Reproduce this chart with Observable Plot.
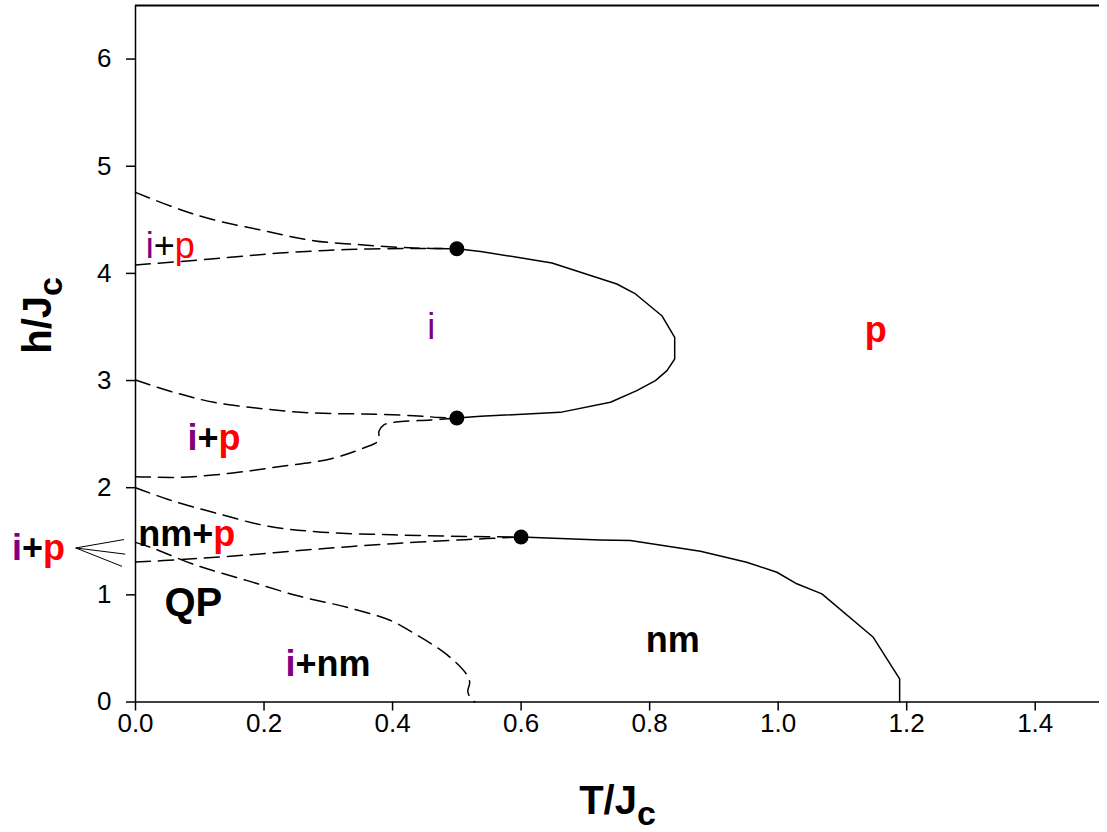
<!DOCTYPE html>
<html>
<head>
<meta charset="utf-8">
<script src="https://cdn.jsdelivr.net/npm/d3@7"></script>
<script src="https://cdn.jsdelivr.net/npm/@observablehq/plot@0.6"></script>
<style>
  html, body { margin: 0; padding: 0; background: #fff; }
  #chart svg g[aria-label="x-axis tick"] path,
  #chart svg g[aria-label="y-axis tick"] path { stroke-width: 1.5px; }
</style>
</head>
<body>
<div id="chart"></div>
<script>
// Phase boundaries in the (T/Jc, h/Jc) plane, as [T, h] pairs.
// Second-order (continuous) transition lines:
const iLoop = [[0.5,4.23],[0.537,4.205],[0.648,4.097],[0.749,3.901],[0.778,3.808],[0.819,3.605],
  [0.839,3.403],[0.839,3.201],[0.827,3.092],[0.809,2.999],[0.780,2.906],[0.739,2.797],
  [0.661,2.703],[0.537,2.666],[0.5,2.65]];
const nmBoundary = [[0.6,1.54],[0.723,1.513],[0.77,1.507],[0.879,1.407],[0.951,1.304],[0.998,1.211],
  [1.029,1.103],[1.068,1.009],[1.148,0.604],[1.189,0.216],[1.189,0]];

// First-order (coexistence) lines:
const upperCoexTop = [[0,4.756],[0.06,4.616],[0.117,4.507],[0.2,4.398],[0.277,4.305],[0.355,4.265],[0.433,4.237],[0.5,4.23]];
const upperCoexBottom = [[0,4.078],[0.117,4.134],[0.225,4.19],[0.329,4.222],[0.433,4.232],[0.5,4.23]];
const middleCoexTop = [[0,3.005],[0.06,2.89],[0.122,2.797],[0.2,2.735],[0.277,2.697],[0.355,2.688],[0.433,2.672],[0.474,2.655],[0.5,2.65]];
const middleCoexBottom = [[0,2.103],[0.07,2.097],[0.148,2.135],[0.225,2.197],[0.303,2.268],[0.355,2.371],[0.378,2.44],
  [0.379,2.53],[0.386,2.585],[0.405,2.612],[0.459,2.632],[0.5,2.65]];
const lowerCoexTop = [[0,2.0],[0.051,1.89],[0.123,1.766],[0.207,1.64],[0.29,1.585],[0.40,1.56],[0.513,1.545],[0.6,1.54]];
const lowerCoexBottom = [[0,1.306],[0.068,1.328],[0.179,1.375],[0.29,1.431],[0.40,1.478],[0.513,1.515],[0.6,1.54]];
const qpBoundary = [[0,1.49],[0.023,1.444],[0.096,1.273],[0.174,1.133],[0.251,0.993],[0.329,0.884],[0.397,0.76],
  [0.429,0.656],[0.485,0.44],[0.516,0.25],[0.52,0.18],[0.517,0.1],[0.521,0.04],[0.528,0]];

// Tricritical points
const tricritical = [[0.5,4.23],[0.5,2.65],[0.6,1.54]];

// Pointer from the outside "i+p" label to the narrow i+p strip at T = 0
const pointerFrom = [-0.093, 1.4375];
const pointerTo = [[-0.018,1.516],[-0.016,1.38],[-0.021,1.266]];

// Region labels (baseline positions)
const labelsPlain = [{T:0.054,h:4.146,text:"i+p"},{T:0.46,h:3.39,text:"i"}];
const labelsBold = [{T:1.152,h:3.356,text:"p"},{T:0.122,h:2.353,text:"i+p"},{T:0.0798,h:1.46,text:"nm+p"},
  {T:-0.151,h:1.328,text:"i+p"},{T:0.2994,h:0.247,text:"i+nm"},{T:0.836,h:0.462,text:"nm"}];
const labelsLarge = [{T:0.09,h:0.807,text:"QP"}];

const xTicks = [0,0.2,0.4,0.6,0.8,1.0,1.2,1.4];
const yTicks = [0,1,2,3,4,5,6];
const xTitle = "T/Jc", yTitle = "h/Jc";

const toRows = (pts, id) => pts.map(([T, h]) => ({T, h, id}));
const solid = [...toRows(iLoop, "i"), ...toRows(nmBoundary, "nm")];
const dashed = [
  ...toRows(upperCoexTop, "a"), ...toRows(upperCoexBottom, "b"),
  ...toRows(middleCoexTop, "c"), ...toRows(middleCoexBottom, "d"),
  ...toRows(lowerCoexTop, "e"), ...toRows(lowerCoexBottom, "f"),
  ...toRows(qpBoundary, "g")
];
const pointers = pointerTo.map(([T, h]) => ({T1: pointerFrom[0], h1: pointerFrom[1], T2: T, h2: h}));

const font = "'Liberation Sans', Arial, Helvetica, sans-serif";

const chart = Plot.plot({
  width: 1107,
  height: 832,
  marginLeft: 135,
  marginRight: 8,
  marginTop: 5,
  marginBottom: 130.5,
  style: {fontFamily: font, fontSize: "26px", color: "black", background: "white", overflow: "visible"},
  x: {domain: [0, 1.5], ticks: xTicks, tickFormat: d3.format(".1f"), tickSize: 9, tickPadding: 3, label: null},
  y: {domain: [0, 6.5], ticks: yTicks, tickFormat: d3.format("d"), tickSize: 9, tickPadding: 15, label: null},
  marks: [
    Plot.ruleY([6.5], {stroke: "black", strokeWidth: 1.8}),
    Plot.ruleX([0], {stroke: "black", strokeWidth: 1.5}),
    Plot.ruleY([0], {stroke: "black", strokeWidth: 1.5}),
    Plot.line(dashed, {x: "T", y: "h", z: "id", stroke: "black", strokeWidth: 1.5,
      strokeDasharray: "15,8", curve: "catmull-rom"}),
    Plot.line(solid, {x: "T", y: "h", z: "id", stroke: "black", strokeWidth: 1.5}),
    Plot.dot(tricritical, {x: d => d[0], y: d => d[1], r: 7.5, fill: "black", stroke: "none"}),
    Plot.link(pointers, {x1: "T1", y1: "h1", x2: "T2", y2: "h2", stroke: "black", strokeWidth: 1}),
    Plot.text(labelsPlain, {x: "T", y: "h", text: "text", fontSize: 36, lineAnchor: "bottom", fill: "black"}),
    Plot.text(labelsBold, {x: "T", y: "h", text: "text", fontSize: 36, fontWeight: "bold", lineAnchor: "bottom", fill: "black"}),
    Plot.text(labelsLarge, {x: "T", y: "h", text: "text", fontSize: 40, fontWeight: "bold", lineAnchor: "bottom", fill: "black"}),
    Plot.text([xTitle], {frameAnchor: "bottom", dy: 111.5, fontSize: 40, fontWeight: "bold", lineAnchor: "bottom", fill: "black"}),
    Plot.text([yTitle], {frameAnchor: "left", dx: -85, rotate: -90, fontSize: 40, fontWeight: "bold", lineAnchor: "bottom", fill: "black"})
  ]
});

document.getElementById("chart").appendChild(chart);

// Colour the phase symbols (i purple, p red) and set the subscript on the axis titles.
const svgNS = "http://www.w3.org/2000/svg";
const phaseColor = ch => ch === "i" ? "#800080" : ch === "p" ? "#ff0000" : "black";
chart.querySelectorAll('g[aria-label="text"] text').forEach(el => {
  const s = el.textContent;
  if (s === xTitle || s === yTitle) {
    el.textContent = "";
    const main = document.createElementNS(svgNS, "tspan");
    main.textContent = s.slice(0, -1);
    const sub = document.createElementNS(svgNS, "tspan");
    sub.textContent = s.slice(-1);
    sub.setAttribute("font-size", "34");
    sub.setAttribute("dy", "11");
    el.append(main, sub);
    return;
  }
  el.textContent = "";
  let run = "", color = null;
  const flush = () => {
    if (!run) return;
    const t = document.createElementNS(svgNS, "tspan");
    t.textContent = run;
    t.setAttribute("fill", color);
    el.appendChild(t);
  };
  for (const ch of s) {
    const c = phaseColor(ch);
    if (c !== color) { flush(); run = ""; color = c; }
    run += ch;
  }
  flush();
});
</script>
</body>
</html>
